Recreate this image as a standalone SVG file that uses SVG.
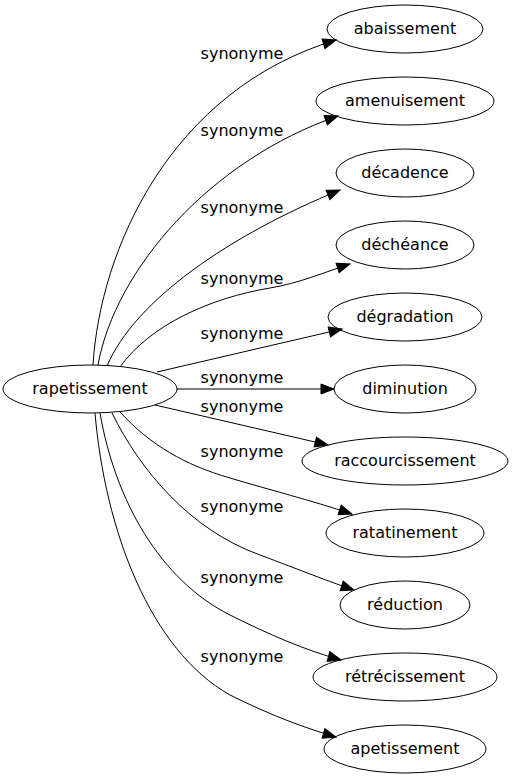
<svg xmlns="http://www.w3.org/2000/svg" width="515" height="779" viewBox="0 0 515 779">
<style>
text{font-family:"DejaVu Sans",sans-serif;font-size:16px;fill:#000}
.n text{text-anchor:middle}
ellipse{fill:none;stroke:#000;stroke-width:1}
#edges path{fill:none;stroke:#000;stroke-width:1;marker-end:url(#arr)}
#labels text{text-anchor:middle}
</style>
<defs>
<marker id="arr" markerUnits="userSpaceOnUse" markerWidth="14" markerHeight="10" refX="13" refY="5" orient="auto" overflow="visible">
<path d="M0,0 L13,5 L0,10 z" fill="#000" stroke="#000" stroke-width="1"/>
</marker>
</defs>
<rect width="515" height="779" fill="#fff"/>
<g id="edges">
<path d="M93,365 C100,250 170,90 336,40"/>
<path d="M98,365 C115,270 210,160 338,116"/>
<path d="M107,366 C135,300 230,235 340,190"/>
<path d="M120,367 C150,325 210,298 270,288 C300,283 325,272 350,264"/>
<path d="M157,372 L342,329"/>
<path d="M177,389 L334,389"/>
<path d="M155,405 L328,445"/>
<path d="M120,412 C150,445 185,465 230,478 C270,490 310,500 352,514"/>
<path d="M112,413 C140,470 190,530 260,555 C300,570 330,582 354,590"/>
<path d="M100,413 C115,500 160,580 230,615 C270,635 305,650 341,660"/>
<path d="M95,413 C105,530 150,650 230,695 C270,715 305,728 336,737"/>
</g>
<g id="labels">
<text x="242" y="59">synonyme</text>
<text x="242" y="136">synonyme</text>
<text x="242" y="213">synonyme</text>
<text x="242" y="284">synonyme</text>
<text x="242" y="339">synonyme</text>
<text x="242" y="383">synonyme</text>
<text x="242" y="412">synonyme</text>
<text x="242" y="457">synonyme</text>
<text x="242" y="512">synonyme</text>
<text x="242" y="583">synonyme</text>
<text x="242" y="662">synonyme</text>
</g>
<g id="n0" class="n"><ellipse cx="90" cy="389" rx="87" ry="24"/><text x="90" y="394">rapetissement</text></g>
<g id="n1" class="n"><ellipse cx="405" cy="29" rx="78" ry="24"/><text x="405" y="34">abaissement</text></g>
<g id="n2" class="n"><ellipse cx="405" cy="101" rx="89" ry="24"/><text x="405" y="106">amenuisement</text></g>
<g id="n3" class="n"><ellipse cx="405" cy="173" rx="69" ry="24"/><text x="405" y="178">décadence</text></g>
<g id="n4" class="n"><ellipse cx="405" cy="245" rx="69" ry="24"/><text x="405" y="250">déchéance</text></g>
<g id="n5" class="n"><ellipse cx="405" cy="317" rx="77" ry="24"/><text x="405" y="322">dégradation</text></g>
<g id="n6" class="n"><ellipse cx="405" cy="389" rx="71" ry="24"/><text x="405" y="394">diminution</text></g>
<g id="n7" class="n"><ellipse cx="405" cy="461" rx="103" ry="24"/><text x="405" y="466">raccourcissement</text></g>
<g id="n8" class="n"><ellipse cx="405" cy="533" rx="79" ry="24"/><text x="405" y="538">ratatinement</text></g>
<g id="n9" class="n"><ellipse cx="405" cy="605" rx="65" ry="24"/><text x="405" y="610">réduction</text></g>
<g id="n10" class="n"><ellipse cx="405" cy="677" rx="92" ry="24"/><text x="405" y="682">rétrécissement</text></g>
<g id="n11" class="n"><ellipse cx="405" cy="749" rx="81" ry="24"/><text x="405" y="754">apetissement</text></g>
</svg>
